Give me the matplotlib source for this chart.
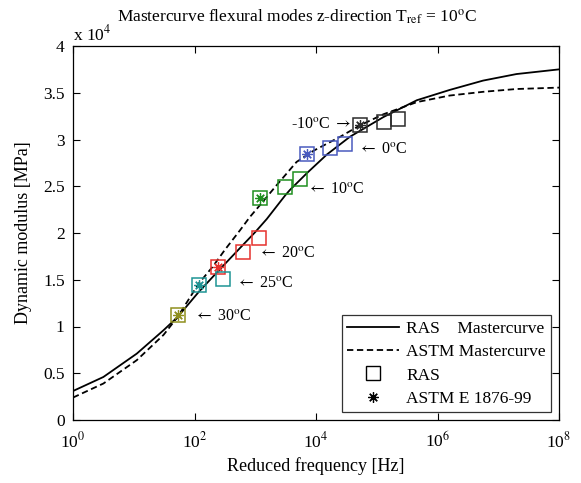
import matplotlib
matplotlib.use("Agg")
import matplotlib.pyplot as plt
from matplotlib.ticker import FuncFormatter, FixedLocator, NullLocator

plt.rcParams['font.family'] = ['Liberation Serif', 'DejaVu Serif']
plt.rcParams['mathtext.fontset'] = 'stix'

# ---- data (log10 of reduced frequency, dynamic modulus in MPa) ----
ras_curve_logf = [0, 0.5, 1.05, 1.49, 1.72, 2.07, 2.4, 2.75, 3.0, 3.19, 3.49, 3.57,
                  3.85, 4.18, 4.56, 5.11, 5.66, 6.2, 6.75, 7.3, 8.0]
ras_curve_E = [3100, 4600, 7100, 9600, 11000, 13700, 16000, 18400, 20100, 21500, 24000, 24600,
               26400, 28400, 30300, 32400, 34200, 35300, 36300, 37000, 37500]

astm_curve_logf = [0, 0.5, 1.05, 1.49, 1.72, 2.07, 2.3, 2.5, 2.75, 2.91, 3.08, 3.35,
                   3.68, 3.96, 4.40, 4.72, 5.11, 5.66, 6.2, 6.75, 7.3, 8.0]
astm_curve_E = [2400, 3900, 6400, 9100, 11000, 14600, 16400, 18200, 20300, 21700, 23000, 25100,
                27600, 28800, 30300, 31500, 32700, 34000, 34700, 35100, 35400, 35550]

temps = ['-10', '0', '10', '20', '25', '30']
temp_colors = ['#2b2b2b', '#4a5bbf', '#1f8f1f', '#e6322e', '#1e9494', '#8f8f1e']

# RAS measured points
ras_pts_logf = {'-10': [5.114, 5.345], '0': [4.23, 4.477], '10': [3.49, 3.737],
                '20': [2.798, 3.062], '25': [2.474], '30': []}
ras_pts_E = {'-10': [31870, 32190], '0': [29090, 29550], '10': [24890, 25810],
             '20': [17970, 19500], '25': [15080], '30': []}

# ASTM E 1876-99 points (one per temperature)
astm_pts_logf = [4.719, 3.847, 3.073, 2.382, 2.074, 1.723]
astm_pts_E = [31520, 28420, 23710, 16330, 14440, 11230]

# annotation positions (log10 f, E)
label_logf = [4.59, 4.69, 3.847, 3.04, 2.68, 1.99]
label_E = [31660, 28950, 24670, 17830, 14620, 11120]

fig = plt.figure(figsize=(5.81, 4.83), dpi=100)
ax = fig.add_axes([73/581, 1-420/483, (559-73)/581, (420-46)/483])

ax.plot([10**v for v in ras_curve_logf], ras_curve_E, '-', color='black', lw=1.3,
        label='RAS    Mastercurve')
ax.plot([10**v for v in astm_curve_logf], astm_curve_E, '--', color='black', lw=1.3,
        dashes=(3.5, 2), label='ASTM Mastercurve')

sq_ms = 9.5
star_marker = (8, 2, 0)
for i, t in enumerate(temps):
    c = temp_colors[i]
    xs = [10**v for v in ras_pts_logf[t]]
    ax.plot(xs, ras_pts_E[t], 's', ms=sq_ms, mfc='none', mec=c, mew=1.1, ls='none')
    ax.plot([10**astm_pts_logf[i]], [astm_pts_E[i]], 's', ms=sq_ms, mfc='none', mec=c,
            mew=1.1, ls='none')
    ax.plot([10**astm_pts_logf[i]], [astm_pts_E[i]], marker=star_marker, ms=7.5, mec=c,
            mew=0.9, ls='none')

# legend proxies
ax.plot([], [], 's', ms=sq_ms, mfc='none', mec='black', mew=1.0, ls='none', label='RAS')
ax.plot([], [], marker=star_marker, ms=7.5, mec='black', mew=0.9, ls='none',
        label='ASTM E 1876-99')

for i, t in enumerate(temps):
    if t == '-10':
        txt = '-10$^{\\rm o}$C $\\rightarrow$'
        ax.text(10**label_logf[i], label_E[i], txt, ha='right', va='center', fontsize=11.5)
    else:
        txt = '$\\leftarrow$ ' + t + '$^{\\rm o}$C'
        ax.text(10**label_logf[i], label_E[i], txt, ha='left', va='center', fontsize=11.5)

ax.set_xscale('log')
ax.set_xlim(1, 1e8)
ax.set_ylim(0, 40000)
ax.xaxis.set_major_locator(FixedLocator([1, 1e2, 1e4, 1e6, 1e8]))
ax.xaxis.set_minor_locator(NullLocator())
ax.set_xticklabels([r'10$^{0}$', r'10$^{2}$', r'10$^{4}$', r'10$^{6}$', r'10$^{8}$'])
ax.yaxis.set_major_locator(FixedLocator([i * 5000 for i in range(9)]))
ax.yaxis.set_major_formatter(FuncFormatter(lambda v, p: '%g' % (v / 1e4)))
ax.tick_params(direction='in', top=True, right=True, labelsize=12.5, length=5, width=0.8)
ax.tick_params(axis='x', pad=8)
ax.tick_params(axis='y', pad=6)
for s in ax.spines.values():
    s.set_linewidth(0.9)

ax.text(0.0, 1.005, r'x 10$^{4}$', transform=ax.transAxes, ha='left', va='bottom',
        fontsize=12.5)
ax.set_xlabel('Reduced frequency [Hz]', fontsize=13, labelpad=4)
ax.set_ylabel('Dynamic modulus [MPa]', fontsize=13, labelpad=8)
fig.text(297/581, 1-22/483, r'Mastercurve flexural modes z-direction T$_{\rm ref}$ = 10$^{\rm o}$C',
         ha='center', va='baseline', fontsize=12.5)

leg = ax.legend(loc='lower right', fontsize=12.5, frameon=True, fancybox=False,
                edgecolor='black', handlelength=3.0, handletextpad=0.4, borderpad=0.3,
                labelspacing=0.42, borderaxespad=0.45)
leg.get_frame().set_linewidth(0.9)

fig.savefig('out.png', dpi=100)
